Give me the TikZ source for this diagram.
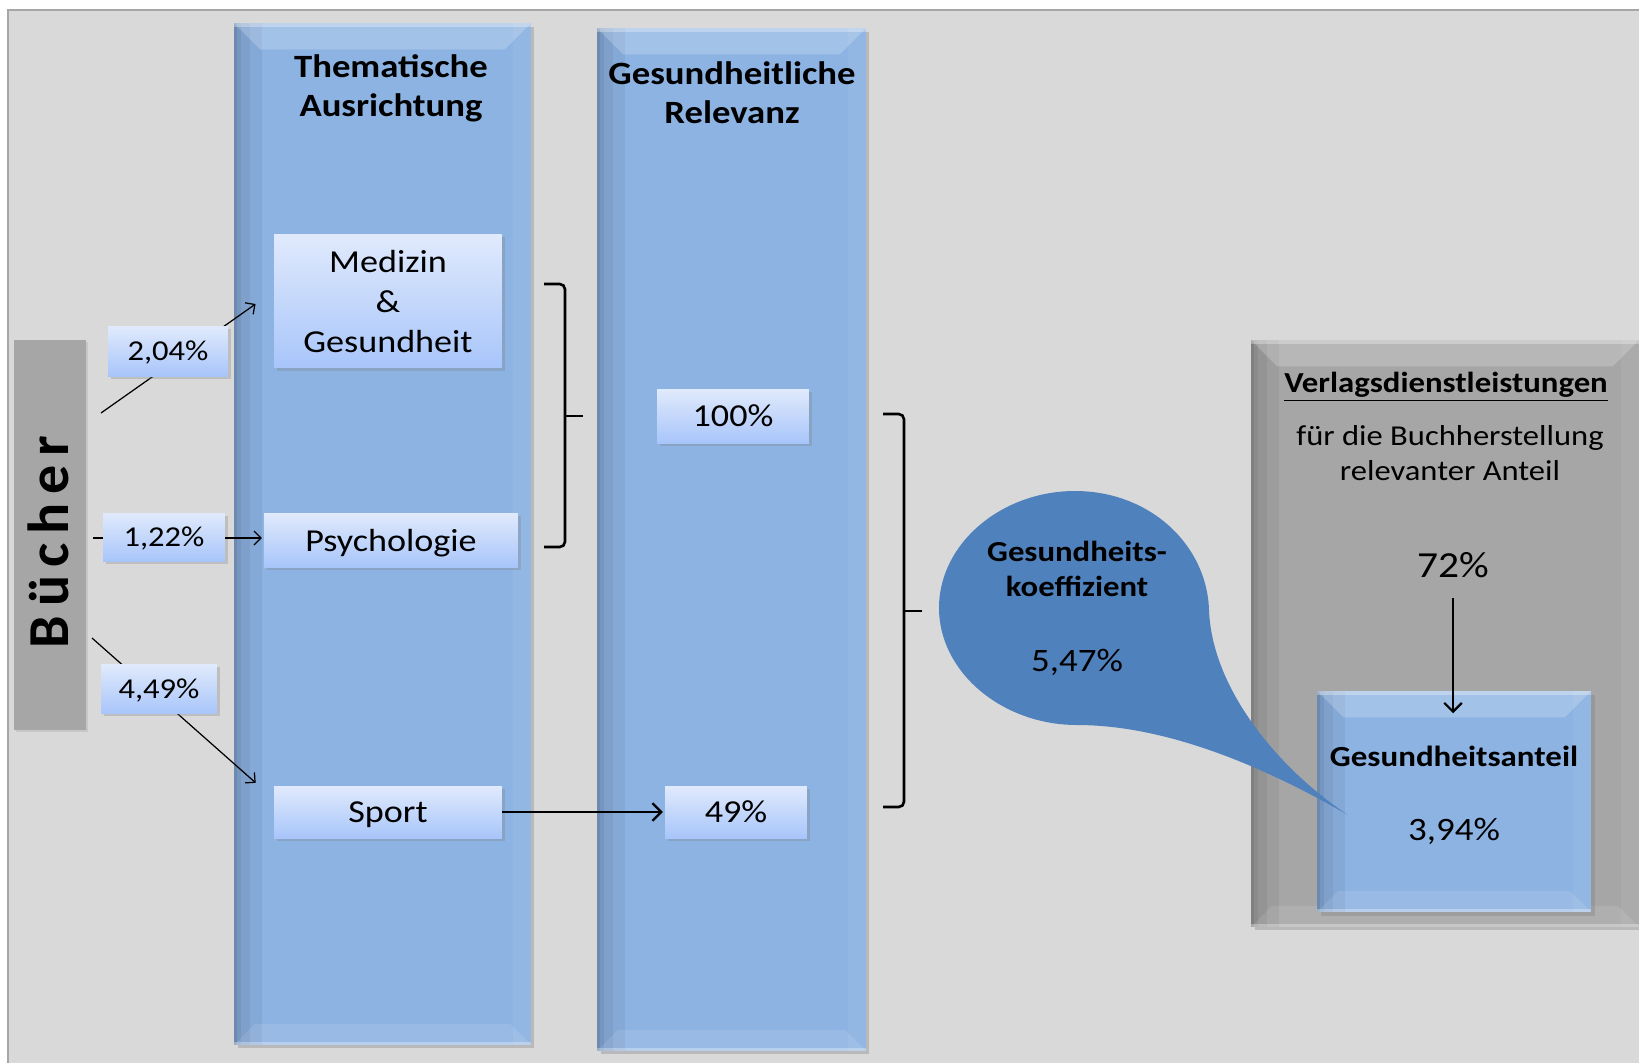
\documentclass[tikz,border=0pt]{standalone}
\usepackage{fontspec}
\setmainfont{Carlito}[FakeStretch=1.13]
\newfontfamily\barfont{Carlito}[LetterSpace=15]
\usepackage{tikz}
\usetikzlibrary{arrows.meta,shadows}
\definecolor{colblue}{RGB}{141,179,226}
\definecolor{coldark}{RGB}{79,129,189}
\definecolor{bggray}{RGB}{217,217,217}
\definecolor{boxgray}{RGB}{166,166,166}
\definecolor{lbltop}{RGB}{224,234,252}
\definecolor{lblbot}{RGB}{168,197,250}
\tikzset{
  post/.style={->,shorten >=1pt,>={Straight Barb[length=4pt,width=8pt]},line width=0.7pt},
  thickpost/.style={->,shorten >=1pt,>={Straight Barb[length=5pt,width=10pt]},line width=1.3pt},
  plain/.style={line width=0.7pt},
}

\begin{document}
\begin{tikzpicture}[x=0.02cm, y=-0.02cm,
    bevel/.style={rectangle, draw=none, fill=#1, inner sep=0pt,
      path picture={
        \fill[black, opacity=0.05] (path picture bounding box.north west) rectangle ([xshift=16pt]path picture bounding box.south west);
        \fill[black, opacity=0.05] (path picture bounding box.north west) rectangle ([xshift=9pt]path picture bounding box.south west);
        \fill[black, opacity=0.06] (path picture bounding box.north west) rectangle ([xshift=4pt]path picture bounding box.south west);
        \fill[black, opacity=0.08] (path picture bounding box.north west) rectangle ([xshift=1.5pt]path picture bounding box.south west);
        \fill[white, opacity=0.06] (path picture bounding box.north east) rectangle ([xshift=-10pt]path picture bounding box.south east);
        \fill[white, opacity=0.2]
          (path picture bounding box.north west) -- (path picture bounding box.north east)
          -- ([xshift=-15pt,yshift=-15pt]path picture bounding box.north east)
          -- ([xshift=15pt,yshift=-15pt]path picture bounding box.north west) -- cycle;
        \fill[white, opacity=0.3] (path picture bounding box.north west) rectangle ([yshift=-2pt]path picture bounding box.north east);
        \fill[white, opacity=0.1]
          (path picture bounding box.south west) -- (path picture bounding box.south east)
          -- ([xshift=-12pt,yshift=12pt]path picture bounding box.south east)
          -- ([xshift=12pt,yshift=12pt]path picture bounding box.south west) -- cycle;
        \fill[white, opacity=0.3] (path picture bounding box.south west) rectangle ([yshift=1.5pt]path picture bounding box.south east);
      }},
    pillar/.style={bevel=colblue, drop shadow={shadow xshift=2pt, shadow yshift=-2pt, opacity=0.35}},
    graybox/.style={bevel=boxgray, drop shadow={shadow xshift=2pt, shadow yshift=-2pt, opacity=0.35}},
    sidebar/.style={rectangle, fill=boxgray, inner sep=0pt,
      drop shadow={shadow xshift=1pt, shadow yshift=-1pt, opacity=0.2}},
    topic/.style={rectangle, inner sep=0pt, align=center, text depth=0pt, top color=lbltop, bottom color=lblbot,
      drop shadow={shadow xshift=1.5pt, shadow yshift=-1.5pt, opacity=0.3},
      font={\fontsize{18.2}{22.8}\selectfont}},
    share/.style={topic, font={\fontsize{16.4}{18}\selectfont}},
    heading/.style={align=center, inner sep=0pt, font={\bfseries\fontsize{18.5}{22.3}\selectfont}},
    note/.style={align=center, inner sep=0pt, font={\fontsize{16.4}{20}\selectfont}},
    bracket/.style={line width=1.5pt, rounded corners=3pt},
  ]
  \clip (0,0) rectangle (1639,1062);
  \fill[white] (0,0) rectangle (1639,1062);
  \filldraw[fill=bggray, draw=boxgray, line width=1.2pt] (8,10) rectangle (1660,1080);

  % columns
  \node[pillar, minimum width=5.94cm, minimum height=20.44cm] (col1) at (382.5,534) {};
  \node[pillar, minimum width=5.38cm, minimum height=20.46cm] (col2) at (731.5,539.5) {};
  \node[heading] (h1) at (391,88) {Thematische\\Ausrichtung};
  \node[heading] (h2) at (732,93) {Gesundheitliche\\Relevanz};

  % Buecher
  \node[sidebar, minimum width=1.44cm, minimum height=7.8cm] (buch) at (50,535) {};
  \node[rotate=90, inner sep=0pt, font={\barfont\bfseries\fontsize{33}{33}\selectfont}] (bucht) at (48.5,542) {Bücher};

  % topics and relevance
  \node[topic, minimum width=4.56cm, minimum height=2.68cm] (med) at (388,301) {Medizin\\\&\\Gesundheit};
  \node[topic, minimum width=5.08cm, minimum height=1.08cm] (psy) at (391,540) {Psychologie};
  \node[topic, minimum width=4.56cm, minimum height=1.04cm] (spo) at (388,812) {Sport};
  \node[topic, minimum width=3.04cm, minimum height=1.08cm] (r100) at (733,416) {100\%};
  \node[topic, minimum width=2.84cm, minimum height=1.04cm] (r49) at (736,812) {49\%};

  % shares of the books
  \coordinate (m0) at (101,413);
  \coordinate (m1) at (257,303);
  \coordinate (s0) at (92,638);
  \coordinate (s1) at (257,784);
  \coordinate (p0) at (93,538);
  \path[post] (m0) edge (m1);
  \path[post] (s0) edge (s1);
  \node[share, minimum width=2.4cm, minimum height=1cm] (p204) at (168,351) {2,04\%};
  \node[share, minimum width=2.44cm, minimum height=0.96cm] (p122) at (164,537) {1,22\%};
  \node[share, minimum width=2.32cm, minimum height=0.98cm] (p449) at (159,689) {4,49\%};
  \path[plain] (p0) edge (p0 -| p122.west);
  \path[post] (p0 -| p122.east) edge (p0 -| psy.west);
  \path[thickpost] (spo.east) edge (r49.west);

  % brackets
  \draw[bracket] (544,284) -- (565,284) -- (565,547) -- (544,547);
  \draw[bracket] (565,416) -- (583,416);
  \draw[bracket] (883,414) -- (904,414) -- (904,807) -- (883,807);
  \draw[bracket] (904,611) -- (922,611);

  % Verlagsdienstleistungen
  \node[graybox, minimum width=7.76cm, minimum height=11.74cm] (verl) at (1445,633.5) {};
  \node[heading, font={\bfseries\fontsize{16.5}{20}\selectfont}] (verlt) at (1446,387) {\underline{Verlagsdienstleistungen}};
  \node[note] (verls) at (1450,453) {für die Buchherstellung\\relevanter Anteil};
  \node[note, font={\fontsize{20.9}{22}\selectfont}] (p72) at (1453,565) {72\%};
  \node[pillar, minimum width=5.48cm, minimum height=4.42cm] (anteil) at (1454,801.5) {};
  \node[heading, font={\bfseries\fontsize{16.6}{20}\selectfont}] (anteilt) at (1454,756) {Gesundheitsanteil};
  \node[note, font={\fontsize{18.6}{20}\selectfont}] (anteilp) at (1454,831) {3,94\%};
  \coordinate (a72) at (1453,715);
  \path[thickpost, shorten <=0.4cm] (p72.south) edge (a72);

  % callout
  \fill[coldark] (1077,725) .. controls (1002,725) and (939,672) .. (939,608)
    .. controls (939,543) and (1002,491) .. (1075,491)
    .. controls (1150,491) and (1207,545) .. (1209,610)
    .. controls (1212,690) and (1280,770) .. (1348,815)
    .. controls (1270,770) and (1170,725) .. (1077,725) -- cycle;
  \node[heading, font={\bfseries\fontsize{16.5}{20}\selectfont}] (kofft) at (1077,569) {Gesundheits-\\koeffizient};
  \node[note, font={\fontsize{18.6}{20}\selectfont}] (koffp) at (1077,662) {5,47\%};
\end{tikzpicture}
\end{document}
